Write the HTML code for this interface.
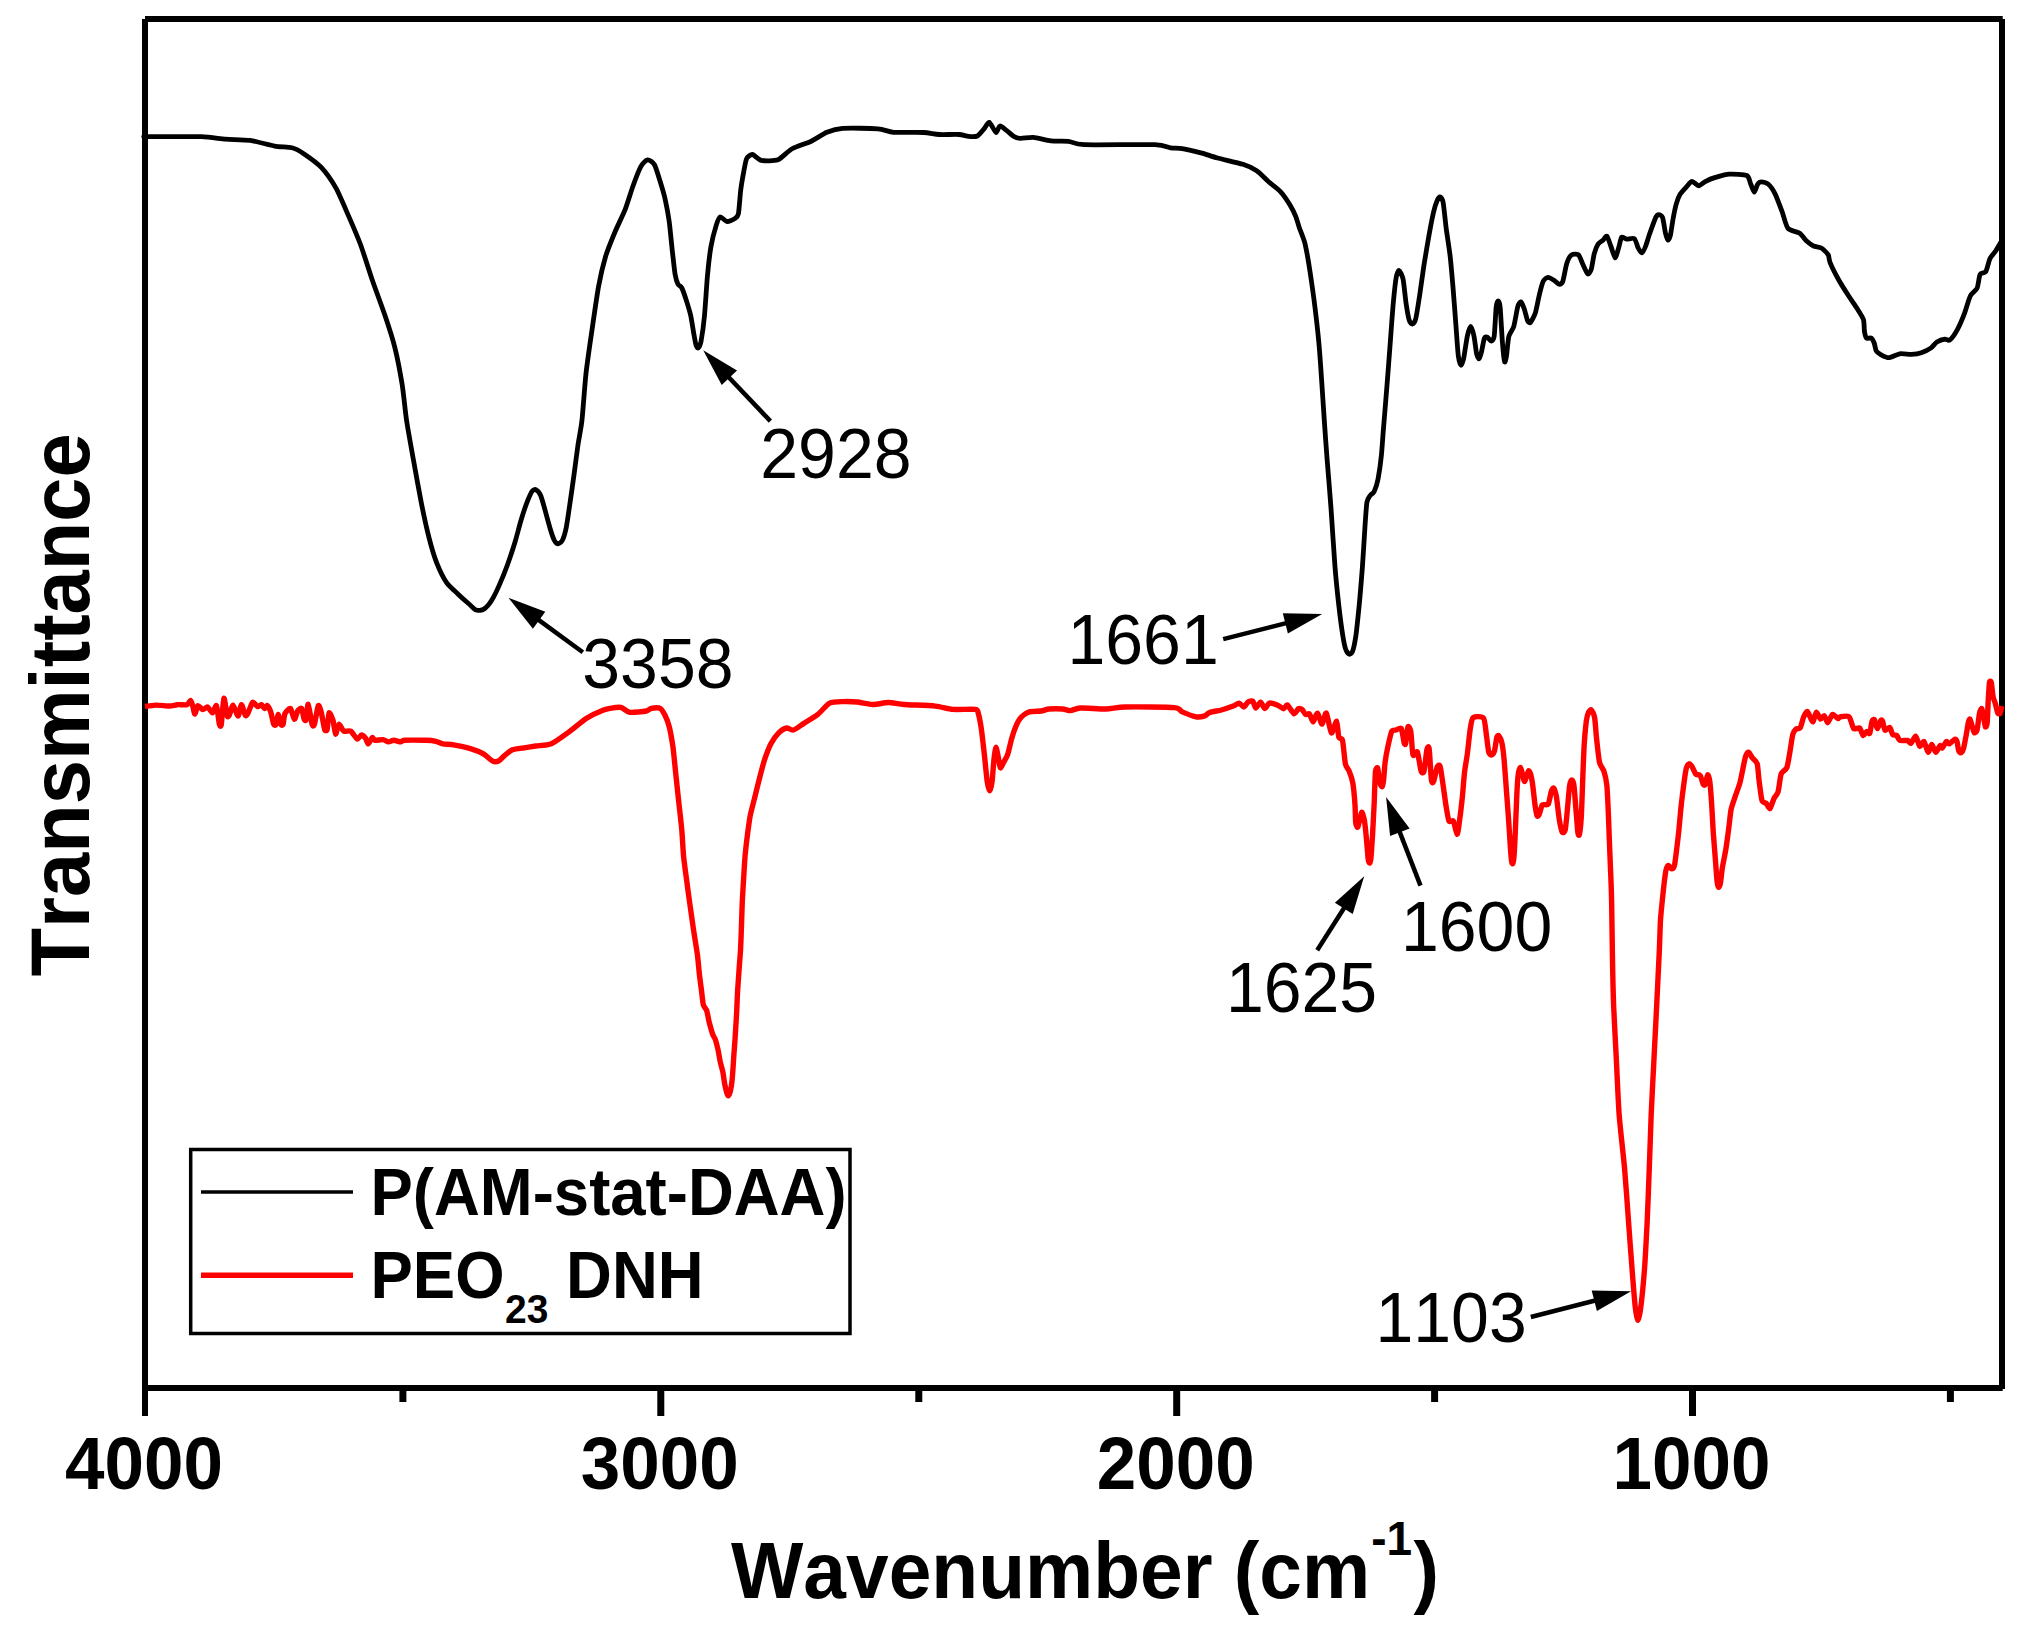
<!DOCTYPE html>
<html><head><meta charset="utf-8"><title>FTIR</title>
<style>
html,body{margin:0;padding:0;background:#fff}
svg{display:block}
text{font-family:"Liberation Sans",sans-serif;fill:#000;font-kerning:none;font-variant-ligatures:none}
.b{font-weight:bold}
</style></head><body>
<svg width="2041" height="1644" viewBox="0 0 2041 1644">
<rect width="2041" height="1644" fill="#fff"/>
<g stroke="#000" stroke-width="6" stroke-linecap="butt"><line x1="145" y1="19" x2="2002.7" y2="19"/><line x1="145" y1="1388" x2="2002.7" y2="1388"/><line x1="145" y1="19" x2="145" y2="1391"/><line x1="2002" y1="19" x2="2002" y2="1389"/></g>
<path d="M145.0 136.7 C145.3 136.7 140.7 136.7 147.3 136.7 C153.9 136.7 192.1 136.4 201.2 136.7 C210.3 137.0 220.0 138.8 225.7 139.2 C231.4 139.6 244.5 139.6 250.2 140.4 C255.9 141.2 269.8 145.2 274.7 146.1 C279.6 147.0 288.5 146.9 291.9 147.8 C295.3 148.7 300.7 151.6 304.1 153.9 C307.5 156.2 317.6 163.4 321.3 167.4 C325.0 171.4 332.9 182.6 336.0 188.2 C339.1 193.8 345.3 208.5 348.2 215.1 C351.1 221.7 357.6 236.8 360.5 244.5 C363.4 252.2 369.8 273.0 372.7 281.3 C375.6 289.6 382.4 307.9 385.0 315.6 C387.6 323.3 392.8 339.4 394.8 347.4 C396.8 355.4 400.7 375.7 402.1 384.2 C403.5 392.7 405.2 411.2 406.5 420.0 C407.8 428.8 411.6 449.6 413.3 459.2 C415.0 468.8 419.4 493.2 421.2 502.3 C423.0 511.4 427.2 530.5 429.0 537.6 C430.8 544.7 434.7 557.8 436.8 563.1 C438.9 568.4 444.1 579.0 446.6 582.7 C449.1 586.4 455.9 592.0 458.4 594.4 C460.9 596.8 466.1 601.4 468.2 603.2 C470.3 605.0 474.2 609.4 476.0 610.1 C477.8 610.8 482.1 610.2 483.9 609.1 C485.7 608.0 489.9 603.2 491.7 600.3 C493.5 597.4 497.7 588.7 499.5 584.6 C501.3 580.5 505.6 570.0 507.4 565.0 C509.2 560.0 513.6 546.8 515.2 541.5 C516.8 536.2 519.7 524.6 521.1 520.0 C522.5 515.4 525.7 505.6 527.0 502.3 C528.3 499.0 530.9 493.0 531.9 491.5 C532.9 490.0 534.8 489.1 535.8 489.6 C536.8 490.1 539.6 492.9 540.7 495.5 C541.8 498.1 544.5 508.1 545.6 512.1 C546.7 516.1 549.5 526.4 550.5 529.7 C551.5 533.0 553.5 538.8 554.4 540.5 C555.3 542.2 557.0 543.9 557.9 543.9 C558.8 543.9 561.3 542.4 562.3 540.5 C563.3 538.6 565.3 532.3 566.2 527.8 C567.1 523.3 569.2 508.5 570.1 502.3 C571.0 496.1 573.1 481.5 574.0 474.9 C574.9 468.3 577.0 451.9 577.9 445.5 C578.8 439.1 581.1 428.3 582.0 420.0 C582.9 411.7 584.8 384.7 585.9 374.4 C587.0 364.1 590.3 341.6 591.8 331.3 C593.3 321.0 597.0 294.9 598.6 286.2 C600.2 277.5 603.6 263.2 605.5 256.8 C607.4 250.4 613.0 236.8 615.3 231.3 C617.6 225.8 623.0 215.0 625.1 209.7 C627.2 204.4 631.1 191.2 632.9 186.2 C634.7 181.2 639.1 169.7 640.8 166.6 C642.5 163.5 646.0 160.0 647.6 159.8 C649.2 159.6 653.0 162.1 654.5 164.7 C656.0 167.3 659.1 178.2 660.4 182.3 C661.7 186.4 664.3 195.4 665.3 200.0 C666.3 204.6 668.4 215.8 669.2 221.5 C670.0 227.2 671.4 242.7 672.1 248.9 C672.8 255.1 674.4 270.3 675.1 274.4 C675.8 278.5 677.2 282.6 678.0 284.2 C678.8 285.8 680.9 286.0 681.9 288.1 C682.9 290.2 685.8 298.7 686.8 301.9 C687.8 305.1 689.9 311.9 690.7 315.6 C691.5 319.3 693.1 329.8 693.7 333.2 C694.3 336.6 695.5 343.3 696.0 345.0 C696.5 346.7 697.6 348.4 698.2 347.9 C698.8 347.4 700.4 344.9 701.1 341.1 C701.8 337.3 703.8 323.1 704.5 315.6 C705.2 308.1 706.7 284.4 707.4 276.4 C708.1 268.4 709.9 252.9 710.9 247.0 C711.9 241.1 715.1 228.9 716.2 225.4 C717.3 221.9 718.8 217.5 720.1 217.0 C721.4 216.5 725.3 221.3 727.0 221.5 C728.7 221.7 733.5 219.5 734.8 218.6 C736.1 217.7 737.7 217.0 738.4 213.7 C739.1 210.4 740.1 195.0 740.7 190.2 C741.3 185.4 742.9 176.2 743.6 172.5 C744.3 168.8 745.6 160.9 746.6 158.8 C747.6 156.7 750.8 154.3 752.5 154.5 C754.2 154.7 758.3 159.8 761.3 160.4 C764.3 161.0 774.4 161.1 777.9 159.8 C781.4 158.5 787.8 151.2 791.7 149.0 C795.6 146.8 807.2 143.1 811.3 141.2 C815.4 139.3 823.2 133.8 826.9 132.3 C830.6 130.8 836.6 128.8 842.6 128.4 C848.6 128.0 871.9 128.3 877.9 128.8 C883.9 129.3 888.3 131.9 893.6 132.3 C898.9 132.7 918.2 132.2 923.5 132.5 C928.8 132.8 935.1 134.3 939.2 134.5 C943.3 134.7 955.4 134.3 958.8 134.5 C962.2 134.7 966.4 136.2 968.6 136.4 C970.8 136.6 975.6 136.9 977.4 136.0 C979.2 135.1 982.9 130.2 984.3 128.6 C985.7 127.0 987.8 121.8 989.2 122.3 C990.6 122.8 994.8 132.1 996.0 132.5 C997.2 132.9 998.6 126.2 999.9 126.0 C1001.2 125.8 1005.2 129.4 1006.8 130.6 C1008.4 131.8 1012.1 135.5 1013.7 136.4 C1015.3 137.3 1018.2 138.3 1020.5 138.4 C1022.8 138.5 1029.8 137.1 1033.3 137.4 C1036.8 137.7 1046.8 140.4 1050.9 140.9 C1055.0 141.4 1064.6 140.9 1068.5 141.3 C1072.4 141.7 1074.1 144.3 1084.2 144.7 C1094.3 145.1 1144.7 144.3 1154.8 144.7 C1164.9 145.1 1167.3 147.3 1170.5 147.8 C1173.7 148.3 1178.5 148.0 1182.2 148.6 C1185.9 149.2 1197.7 152.0 1201.8 153.1 C1205.9 154.2 1212.7 156.7 1217.5 158.0 C1222.3 159.3 1238.4 162.8 1243.0 164.3 C1247.6 165.8 1253.7 168.7 1256.7 170.7 C1259.7 172.7 1265.7 179.1 1268.4 181.5 C1271.1 183.9 1277.7 188.6 1280.2 191.3 C1282.7 194.0 1288.2 202.0 1290.0 205.0 C1291.8 208.0 1294.8 214.1 1295.9 216.8 C1297.0 219.5 1298.3 224.8 1299.4 228.0 C1300.5 231.2 1303.9 239.0 1305.1 244.1 C1306.3 249.2 1308.9 264.2 1310.0 271.5 C1311.1 278.8 1313.9 298.6 1314.9 306.8 C1315.9 315.0 1318.0 333.4 1318.8 342.1 C1319.6 350.8 1321.1 372.2 1321.7 381.3 C1322.3 390.4 1323.7 411.4 1324.3 420.5 C1324.9 429.6 1326.3 449.0 1327.1 459.2 C1327.9 469.4 1330.1 495.6 1331.0 508.2 C1331.9 520.8 1334.1 555.6 1335.0 567.0 C1335.9 578.4 1338.0 598.2 1338.9 606.2 C1339.8 614.2 1342.0 630.6 1342.8 635.6 C1343.6 640.6 1344.9 647.1 1345.7 649.3 C1346.5 651.5 1348.5 654.0 1349.3 654.2 C1350.1 654.4 1351.8 653.5 1352.6 651.3 C1353.4 649.1 1355.1 640.9 1355.9 635.6 C1356.7 630.3 1358.3 614.2 1359.1 606.2 C1359.9 598.2 1361.7 576.1 1362.4 567.0 C1363.1 557.9 1364.4 535.3 1364.9 527.8 C1365.4 520.3 1366.3 506.1 1366.9 502.3 C1367.5 498.5 1369.3 496.8 1370.2 495.5 C1371.1 494.2 1373.3 493.4 1374.2 491.5 C1375.1 489.6 1377.3 483.0 1378.1 478.8 C1378.9 474.6 1380.8 461.2 1381.4 455.3 C1382.0 449.4 1382.8 436.5 1383.5 428.3 C1384.2 420.1 1386.2 395.3 1387.0 385.2 C1387.8 375.1 1389.6 351.7 1390.3 342.1 C1391.0 332.5 1392.6 310.4 1393.3 302.9 C1394.0 295.4 1395.5 281.2 1396.2 277.4 C1396.9 273.6 1398.3 270.3 1399.1 270.5 C1399.9 270.7 1402.3 275.5 1403.1 279.3 C1403.9 283.1 1405.3 298.1 1406.0 302.9 C1406.7 307.7 1408.5 318.0 1409.3 320.5 C1410.1 323.0 1411.7 324.2 1412.5 324.0 C1413.3 323.8 1415.0 321.9 1415.8 318.5 C1416.6 315.1 1418.8 300.9 1419.7 295.0 C1420.6 289.1 1422.6 274.2 1423.6 267.6 C1424.6 261.0 1427.4 244.6 1428.5 238.2 C1429.6 231.8 1432.4 217.2 1433.4 212.7 C1434.4 208.2 1436.6 201.8 1437.4 200.0 C1438.2 198.2 1439.6 196.7 1440.3 197.0 C1441.0 197.3 1442.5 199.2 1443.2 202.9 C1443.9 206.6 1445.4 222.2 1446.2 228.4 C1447.0 234.6 1449.3 248.9 1450.1 255.8 C1450.9 262.7 1452.3 279.0 1453.0 287.2 C1453.7 295.4 1455.4 318.4 1456.0 326.4 C1456.6 334.4 1457.7 351.3 1458.3 355.8 C1458.9 360.3 1460.3 365.0 1460.9 365.2 C1461.5 365.4 1463.1 361.1 1463.8 357.7 C1464.5 354.3 1466.5 339.9 1467.3 336.2 C1468.1 332.5 1469.9 326.4 1470.7 326.4 C1471.5 326.4 1473.3 333.0 1474.0 336.2 C1474.7 339.4 1476.0 351.2 1476.6 353.8 C1477.2 356.4 1478.5 358.9 1479.1 358.7 C1479.7 358.5 1480.9 354.3 1481.5 351.9 C1482.1 349.5 1483.7 339.8 1484.4 338.1 C1485.1 336.4 1486.5 336.8 1487.3 337.2 C1488.1 337.6 1490.5 341.2 1491.3 341.1 C1492.1 341.0 1493.6 340.2 1494.2 336.2 C1494.8 332.2 1495.7 310.9 1496.2 306.8 C1496.7 302.7 1497.6 300.9 1498.1 300.9 C1498.6 300.9 1499.6 302.0 1500.1 306.8 C1500.6 311.6 1501.9 335.7 1502.4 342.1 C1502.9 348.5 1504.1 360.1 1504.6 361.7 C1505.1 363.3 1506.0 358.8 1506.5 355.8 C1507.0 352.8 1508.0 339.6 1508.9 336.2 C1509.8 332.8 1512.8 329.8 1513.8 326.4 C1514.8 323.0 1516.9 309.7 1517.7 306.8 C1518.5 303.9 1520.2 301.7 1521.0 301.9 C1521.8 302.1 1523.4 306.5 1524.2 308.7 C1525.0 310.9 1526.8 318.9 1527.5 320.5 C1528.2 322.1 1529.6 323.4 1530.5 322.5 C1531.4 321.6 1534.4 315.9 1535.4 312.7 C1536.4 309.5 1538.4 298.7 1539.3 295.0 C1540.2 291.3 1542.2 283.4 1543.2 281.3 C1544.2 279.2 1546.8 277.5 1548.1 277.4 C1549.4 277.3 1552.7 279.5 1554.0 280.3 C1555.3 281.1 1557.9 284.1 1558.9 284.2 C1559.9 284.3 1561.9 283.7 1562.8 281.3 C1563.7 278.9 1565.7 266.8 1566.7 263.7 C1567.7 260.6 1570.2 255.9 1571.6 254.9 C1573.0 253.9 1577.1 253.7 1578.5 254.9 C1579.9 256.1 1582.3 263.4 1583.4 265.6 C1584.5 267.8 1586.8 273.4 1587.7 273.9 C1588.6 274.4 1590.4 271.8 1591.2 269.5 C1592.0 267.2 1593.4 256.9 1594.2 253.9 C1595.0 250.9 1597.1 245.7 1598.1 244.1 C1599.1 242.5 1602.0 241.1 1603.0 240.2 C1604.0 239.3 1606.0 235.5 1606.9 236.2 C1607.8 236.9 1609.8 243.5 1610.8 246.0 C1611.8 248.5 1614.2 257.6 1615.1 257.8 C1616.0 258.0 1617.8 250.4 1618.6 248.0 C1619.4 245.6 1620.7 238.2 1621.6 237.2 C1622.5 236.2 1625.0 239.0 1626.5 239.2 C1628.0 239.4 1632.9 237.6 1634.3 238.6 C1635.7 239.6 1637.3 246.3 1638.2 248.0 C1639.1 249.7 1640.9 253.1 1641.8 252.9 C1642.7 252.7 1644.8 248.3 1645.7 246.0 C1646.6 243.7 1648.6 236.6 1649.8 233.3 C1651.0 230.0 1654.7 219.8 1655.7 217.6 C1656.7 215.4 1657.8 214.6 1658.6 214.6 C1659.4 214.6 1661.8 215.4 1662.6 217.6 C1663.4 219.8 1664.9 230.7 1665.5 233.3 C1666.1 235.9 1667.4 239.9 1668.0 240.1 C1668.6 240.3 1669.8 237.8 1670.4 235.2 C1671.0 232.6 1672.6 221.3 1673.3 217.6 C1674.0 213.9 1675.5 206.6 1676.3 203.9 C1677.1 201.2 1678.9 196.2 1680.2 194.1 C1681.5 192.0 1685.7 187.7 1687.1 186.2 C1688.5 184.7 1690.6 181.3 1692.0 181.3 C1693.4 181.3 1697.2 185.8 1698.8 185.8 C1700.4 185.8 1703.8 182.3 1705.7 181.3 C1707.6 180.3 1712.8 178.2 1715.5 177.4 C1718.2 176.6 1725.5 174.3 1729.2 174.1 C1732.9 173.9 1744.3 174.3 1746.8 175.5 C1749.3 176.7 1749.9 182.4 1750.8 184.3 C1751.7 186.2 1753.5 192.1 1754.3 192.1 C1755.1 192.1 1756.8 185.5 1757.6 184.3 C1758.4 183.1 1760.2 181.9 1761.5 181.9 C1762.8 181.9 1766.8 182.9 1768.4 184.3 C1770.0 185.7 1773.6 190.9 1775.2 194.1 C1776.8 197.3 1780.6 207.7 1782.1 211.7 C1783.6 215.7 1785.9 225.9 1788.0 228.4 C1790.1 230.9 1797.5 231.8 1799.7 233.3 C1801.9 234.8 1805.0 239.6 1806.6 241.1 C1808.2 242.6 1811.8 245.2 1813.5 246.0 C1815.2 246.8 1819.6 247.0 1821.3 248.0 C1823.0 249.0 1827.2 253.1 1828.2 254.8 C1829.2 256.5 1828.9 259.7 1830.1 262.7 C1831.3 265.7 1836.7 276.4 1838.9 280.3 C1841.1 284.2 1846.6 292.8 1848.7 296.0 C1850.8 299.2 1854.9 305.0 1856.6 307.7 C1858.3 310.4 1862.5 316.7 1863.4 319.5 C1864.3 322.3 1864.1 329.1 1864.4 331.3 C1864.8 333.5 1865.6 337.3 1866.4 338.1 C1867.2 338.9 1870.4 337.5 1871.3 338.1 C1872.2 338.7 1873.6 341.5 1874.2 343.0 C1874.8 344.5 1875.4 349.5 1876.2 350.9 C1877.0 352.3 1879.6 354.0 1881.1 354.8 C1882.6 355.6 1886.7 357.8 1888.9 357.7 C1891.1 357.6 1897.1 354.2 1899.7 353.8 C1902.3 353.4 1909.0 354.5 1911.5 354.4 C1914.0 354.3 1919.0 353.6 1921.3 352.8 C1923.6 352.0 1929.3 349.2 1931.1 347.9 C1932.9 346.6 1935.3 343.0 1936.9 342.0 C1938.5 341.0 1943.3 339.3 1944.8 339.1 C1946.3 338.9 1948.2 341.2 1949.7 340.1 C1951.2 339.0 1955.8 332.4 1957.5 329.3 C1959.2 326.2 1962.9 317.5 1964.4 313.6 C1965.9 309.7 1968.8 299.0 1970.3 296.0 C1971.8 293.0 1976.0 290.6 1977.1 288.1 C1978.2 285.6 1979.1 276.3 1980.1 274.4 C1981.1 272.5 1984.8 273.3 1985.9 271.5 C1987.0 269.7 1988.8 261.1 1989.9 258.7 C1991.0 256.3 1994.4 252.8 1995.7 250.9 C1997.0 249.0 2000.4 243.0 2001.0 242.0" fill="none" stroke="#000" stroke-width="4.8" stroke-linejoin="round" stroke-linecap="butt"/>
<path d="M145.0 706.6 C146.2 706.4 152.9 705.2 155.7 705.1 C158.5 705.0 166.9 706.0 169.4 706.0 C171.9 706.0 175.1 704.9 177.2 704.7 C179.3 704.5 185.4 705.2 187.0 704.7 C188.6 704.2 189.9 700.2 190.6 700.4 C191.3 700.6 192.4 705.0 192.9 706.6 C193.4 708.2 194.3 714.2 194.9 714.1 C195.5 714.0 196.9 706.2 197.8 705.7 C198.7 705.2 201.6 709.4 202.7 709.6 C203.8 709.8 206.5 706.6 207.6 707.0 C208.7 707.4 211.5 713.1 212.5 712.9 C213.5 712.7 215.6 704.4 216.4 705.7 C217.2 707.0 218.8 722.1 219.4 724.3 C220.0 726.5 220.8 727.3 221.3 724.3 C221.8 721.3 223.2 699.4 223.9 698.4 C224.6 697.4 226.6 713.5 227.2 715.5 C227.8 717.5 228.5 716.7 229.2 715.5 C229.9 714.3 232.1 705.0 233.1 705.1 C234.1 705.2 237.0 716.0 238.0 716.0 C239.0 716.0 240.6 704.8 241.5 704.7 C242.4 704.6 244.6 714.6 245.4 715.5 C246.2 716.4 247.3 714.0 248.2 712.5 C249.1 711.0 251.6 703.0 252.7 702.3 C253.8 701.6 256.6 706.3 257.6 706.6 C258.6 706.9 260.7 704.5 261.5 704.7 C262.3 704.9 263.8 708.5 264.5 708.6 C265.2 708.7 266.7 705.2 267.4 705.7 C268.1 706.2 270.2 710.3 270.9 712.5 C271.6 714.7 273.1 722.9 273.7 724.3 C274.3 725.7 275.7 725.4 276.2 724.3 C276.7 723.2 277.7 714.5 278.2 714.5 C278.7 714.5 280.1 723.2 280.7 724.3 C281.3 725.4 282.6 725.6 283.1 724.3 C283.6 723.0 284.1 715.3 285.0 713.5 C285.9 711.7 289.4 707.9 290.5 708.6 C291.6 709.3 293.5 719.2 294.4 719.4 C295.3 719.6 296.9 711.9 297.8 710.6 C298.7 709.3 301.0 707.6 301.7 708.6 C302.4 709.6 303.7 718.1 304.2 719.4 C304.7 720.7 305.7 721.2 306.2 719.4 C306.7 717.6 307.5 703.7 308.2 704.3 C308.9 704.9 311.4 722.0 312.1 724.3 C312.8 726.6 313.7 726.5 314.4 724.3 C315.1 722.1 317.5 707.1 318.3 705.7 C319.1 704.3 320.6 709.8 321.3 712.5 C322.0 715.2 323.9 727.3 324.6 729.2 C325.3 731.1 326.7 731.1 327.2 729.2 C327.7 727.3 328.4 713.9 329.1 712.9 C329.8 711.9 332.2 717.9 333.0 720.4 C333.8 722.9 334.9 733.6 335.6 734.1 C336.3 734.6 337.9 724.6 338.9 724.3 C339.9 723.9 342.4 730.3 343.8 731.1 C345.2 731.9 349.1 730.2 350.7 731.1 C352.3 732.0 355.9 738.5 357.2 739.0 C358.5 739.5 360.5 735.1 361.5 735.0 C362.5 734.9 364.6 737.0 365.4 738.0 C366.2 739.0 367.5 743.9 368.3 743.9 C369.1 743.9 371.4 738.0 372.2 737.6 C373.0 737.2 373.9 740.1 375.2 740.3 C376.5 740.5 381.4 739.4 383.0 739.6 C384.6 739.8 387.2 741.8 388.5 741.9 C389.8 742.0 392.4 740.3 393.8 740.3 C395.2 740.3 399.4 741.9 400.7 741.9 C402.0 741.9 401.6 740.5 404.6 740.3 C407.6 740.1 422.4 740.2 426.1 740.3 C429.8 740.4 434.0 740.9 435.9 741.3 C437.8 741.7 440.7 743.5 442.8 743.9 C444.9 744.3 450.3 744.3 453.6 744.9 C456.9 745.5 467.8 747.8 471.2 748.8 C474.6 749.8 480.5 752.3 483.0 753.7 C485.5 755.1 491.0 760.2 492.8 761.1 C494.6 762.0 497.2 761.7 498.6 761.1 C500.0 760.5 502.9 756.9 504.5 755.6 C506.1 754.3 510.1 750.7 512.4 749.8 C514.7 748.9 521.4 748.2 524.1 747.8 C526.8 747.4 532.5 746.5 535.7 746.0 C538.9 745.5 547.5 745.3 551.4 743.7 C555.3 742.1 564.9 734.9 569.0 731.9 C573.1 728.9 582.7 720.7 586.6 718.2 C590.5 715.7 599.5 711.5 602.3 710.4 C605.1 709.3 608.0 708.8 610.2 708.4 C612.4 708.0 618.6 706.9 620.9 707.4 C623.2 707.9 626.7 711.9 629.7 712.3 C632.7 712.7 643.9 711.5 646.4 711.0 C648.9 710.5 649.7 708.7 651.3 708.4 C652.9 708.1 658.5 707.6 660.1 708.4 C661.7 709.2 663.9 713.1 665.0 715.3 C666.1 717.5 668.4 723.3 669.3 727.0 C670.2 730.7 672.1 741.1 672.9 746.6 C673.7 752.1 675.1 767.7 675.8 774.1 C676.5 780.5 678.0 795.1 678.7 801.5 C679.4 807.9 681.1 822.5 681.7 828.9 C682.3 835.3 683.0 850.4 683.6 856.4 C684.2 862.4 685.9 874.6 686.6 879.9 C687.3 885.2 688.7 895.8 689.5 901.5 C690.3 907.2 692.5 922.7 693.4 928.9 C694.3 935.1 696.7 949.4 697.4 954.7 C698.1 960.0 698.9 970.3 699.4 974.3 C699.9 978.3 700.8 985.5 701.3 989.0 C701.8 992.5 702.7 1002.2 703.3 1004.7 C703.9 1007.2 706.0 1008.5 706.7 1010.6 C707.4 1012.7 708.5 1019.6 709.2 1022.3 C709.9 1025.0 711.9 1032.0 712.6 1034.1 C713.3 1036.2 714.9 1038.2 715.5 1040.0 C716.1 1041.8 717.4 1047.1 718.0 1049.7 C718.6 1052.3 719.8 1059.9 720.4 1062.5 C721.0 1065.1 722.4 1069.7 722.9 1072.3 C723.4 1074.9 724.4 1082.6 724.9 1085.0 C725.4 1087.4 726.4 1091.6 726.8 1092.9 C727.2 1094.2 727.9 1095.9 728.3 1095.8 C728.7 1095.7 729.7 1093.8 730.2 1091.9 C730.7 1090.0 731.8 1083.1 732.2 1079.1 C732.6 1075.1 733.4 1062.4 733.7 1057.6 C734.0 1052.8 734.8 1043.1 735.1 1038.0 C735.4 1032.9 736.3 1019.0 736.6 1013.5 C736.9 1008.0 737.3 996.1 737.6 991.0 C737.9 985.9 738.8 974.1 739.1 969.4 C739.4 964.7 740.2 955.7 740.5 950.5 C740.8 945.3 741.3 931.0 741.5 925.0 C741.7 919.0 742.1 905.2 742.4 899.5 C742.7 893.8 743.4 881.5 743.8 876.0 C744.1 870.5 744.9 857.5 745.4 852.5 C745.9 847.5 747.1 837.3 747.7 832.9 C748.3 828.5 749.4 819.6 750.3 815.2 C751.2 810.8 754.1 800.2 755.2 795.6 C756.3 791.0 759.0 780.3 760.1 776.0 C761.2 771.7 763.7 762.2 765.0 758.4 C766.3 754.6 769.3 746.7 770.9 743.7 C772.5 740.7 776.9 734.7 778.7 732.9 C780.5 731.1 784.8 728.3 786.5 728.0 C788.2 727.7 791.3 730.6 793.4 730.0 C795.5 729.4 801.3 724.9 804.2 723.1 C807.1 721.3 814.9 716.6 817.9 714.3 C820.9 712.0 826.7 704.6 829.7 703.1 C832.7 701.6 840.2 701.7 843.4 701.6 C846.6 701.5 853.7 701.7 857.1 702.0 C860.5 702.3 869.1 704.4 872.8 704.5 C876.5 704.6 884.7 702.5 888.4 702.5 C892.1 702.5 898.6 704.1 904.1 704.5 C909.6 704.9 929.6 705.5 935.3 706.1 C941.0 706.7 948.2 709.0 952.9 709.4 C957.6 709.8 972.5 708.9 975.5 709.4 C978.5 709.9 977.7 711.7 978.4 713.9 C979.1 716.1 980.6 723.9 981.3 728.6 C982.0 733.3 983.6 747.9 984.3 754.1 C985.0 760.3 986.6 777.2 987.2 781.5 C987.8 785.8 989.2 790.9 989.8 790.9 C990.4 790.9 991.6 785.3 992.1 781.5 C992.6 777.7 993.6 762.0 994.1 758.0 C994.6 754.0 995.5 747.2 996.0 747.2 C996.5 747.2 997.9 755.6 998.4 758.0 C998.9 760.4 999.7 767.3 1000.3 767.8 C1000.9 768.3 1003.0 763.5 1003.9 761.9 C1004.8 760.3 1006.9 756.8 1007.8 754.1 C1008.7 751.4 1010.7 741.8 1011.7 738.4 C1012.7 735.0 1015.5 727.2 1016.6 724.7 C1017.7 722.2 1020.0 718.3 1021.5 716.8 C1023.0 715.3 1027.0 712.6 1029.3 711.9 C1031.6 711.2 1038.8 711.3 1041.1 711.0 C1043.4 710.7 1046.4 709.2 1048.9 709.0 C1051.4 708.8 1060.2 708.8 1062.7 709.0 C1065.2 709.2 1068.4 710.7 1070.5 710.6 C1072.6 710.5 1076.2 708.2 1080.3 708.0 C1084.4 707.8 1100.5 709.1 1105.8 709.0 C1111.1 708.9 1117.4 707.2 1125.4 707.0 C1133.4 706.8 1167.8 707.0 1174.4 707.6 C1181.0 708.2 1179.7 710.8 1182.2 711.9 C1184.7 713.0 1193.3 716.3 1195.9 716.8 C1198.5 717.3 1203.2 716.4 1204.8 715.9 C1206.4 715.4 1207.7 713.2 1209.6 712.5 C1211.5 711.8 1218.6 710.7 1221.4 710.0 C1224.2 709.3 1231.1 706.9 1233.2 706.1 C1235.3 705.3 1237.8 703.0 1239.0 703.1 C1240.2 703.2 1242.9 707.1 1243.9 707.0 C1244.9 706.9 1246.9 702.8 1247.9 702.1 C1248.9 701.4 1251.9 700.5 1252.8 701.2 C1253.7 701.9 1254.8 707.9 1255.7 708.0 C1256.6 708.1 1259.5 702.0 1260.6 702.1 C1261.7 702.2 1263.9 708.5 1264.9 708.6 C1265.9 708.7 1267.8 703.5 1269.4 703.1 C1271.0 702.7 1276.5 704.8 1278.2 705.5 C1279.9 706.2 1282.6 708.8 1283.7 708.7 C1284.8 708.6 1286.1 704.4 1287.3 705.0 C1288.5 705.6 1292.7 713.4 1294.0 713.8 C1295.3 714.2 1297.5 709.2 1298.4 708.7 C1299.3 708.2 1301.1 708.7 1302.0 709.4 C1302.9 710.1 1304.8 714.0 1305.7 714.5 C1306.6 715.0 1308.5 712.9 1309.4 713.8 C1310.3 714.7 1312.2 722.0 1313.1 721.9 C1314.0 721.8 1316.5 712.8 1317.5 713.1 C1318.5 713.4 1320.9 724.1 1321.9 724.1 C1322.9 724.1 1325.2 712.1 1326.3 713.1 C1327.4 714.1 1330.2 732.0 1331.4 732.9 C1332.6 733.8 1335.7 720.7 1336.6 721.2 C1337.5 721.7 1338.1 735.1 1338.8 737.3 C1339.5 739.5 1341.7 737.2 1342.5 740.3 C1343.3 743.4 1344.6 760.2 1345.4 763.8 C1346.2 767.4 1348.2 768.9 1349.1 771.1 C1350.0 773.3 1352.1 779.0 1352.8 782.9 C1353.5 786.8 1354.7 800.3 1355.0 804.9 C1355.3 809.5 1355.4 820.0 1355.7 822.6 C1356.0 825.2 1357.2 828.2 1357.9 827.0 C1358.6 825.8 1360.8 813.0 1361.6 812.3 C1362.4 811.6 1363.9 817.7 1364.5 821.1 C1365.1 824.5 1366.3 837.2 1366.7 841.7 C1367.1 846.2 1367.9 856.8 1368.2 859.3 C1368.5 861.8 1369.4 863.3 1369.7 863.0 C1370.0 862.7 1370.8 859.7 1371.1 856.4 C1371.4 853.1 1372.2 840.3 1372.6 834.3 C1372.9 828.3 1373.8 810.6 1374.1 804.9 C1374.4 799.2 1374.6 789.7 1374.8 785.8 C1375.0 781.9 1375.2 773.2 1375.5 771.1 C1375.8 769.0 1377.2 766.8 1377.7 768.2 C1378.2 769.6 1379.4 780.8 1379.9 782.9 C1380.4 785.0 1381.8 786.9 1382.2 786.6 C1382.6 786.3 1383.3 782.8 1383.6 780.0 C1383.9 777.2 1384.6 766.3 1385.1 762.3 C1385.6 758.3 1387.2 749.7 1388.0 746.1 C1388.8 742.5 1390.8 733.3 1391.7 731.4 C1392.6 729.5 1395.0 730.3 1396.1 730.0 C1397.2 729.7 1400.4 727.0 1401.3 728.5 C1402.2 730.0 1403.7 741.5 1404.2 743.2 C1404.7 744.9 1405.3 745.1 1405.7 743.2 C1406.1 741.3 1407.3 728.4 1407.9 727.0 C1408.5 725.6 1410.2 728.1 1410.8 731.4 C1411.4 734.7 1412.2 752.6 1413.0 755.0 C1413.8 757.4 1416.5 750.1 1417.4 752.0 C1418.3 753.9 1420.3 768.9 1421.1 771.1 C1421.9 773.3 1423.3 773.7 1424.0 771.1 C1424.7 768.5 1426.4 751.7 1427.0 749.1 C1427.6 746.5 1428.7 745.5 1429.2 749.1 C1429.7 752.7 1430.9 776.2 1431.4 780.0 C1431.9 783.8 1432.9 783.0 1433.6 781.4 C1434.3 779.8 1436.5 768.4 1437.3 766.7 C1438.1 765.0 1439.5 764.5 1440.2 766.7 C1440.9 768.9 1442.5 781.2 1443.2 785.8 C1443.9 790.4 1445.4 802.3 1446.1 806.4 C1446.8 810.5 1448.1 819.4 1449.0 821.1 C1449.9 822.8 1452.5 819.6 1453.4 821.1 C1454.3 822.6 1456.4 834.1 1457.1 834.3 C1457.8 834.5 1458.7 826.9 1459.3 822.6 C1459.9 818.3 1461.7 803.4 1462.3 797.6 C1462.9 791.8 1463.9 777.7 1464.5 772.6 C1465.1 767.5 1466.7 758.6 1467.4 753.5 C1468.1 748.4 1469.6 732.7 1470.3 728.5 C1471.0 724.3 1471.7 718.7 1473.3 717.5 C1474.9 716.3 1482.1 716.1 1483.6 718.2 C1485.1 720.3 1485.9 732.0 1486.5 735.9 C1487.1 739.8 1488.1 749.8 1488.7 752.0 C1489.3 754.2 1491.0 755.2 1491.7 755.0 C1492.4 754.8 1494.0 752.7 1494.6 750.6 C1495.2 748.5 1496.3 739.0 1496.8 737.3 C1497.3 735.6 1498.4 735.2 1499.0 735.9 C1499.6 736.6 1501.4 740.3 1502.0 743.2 C1502.6 746.1 1503.7 755.3 1504.2 760.8 C1504.7 766.3 1505.9 783.3 1506.4 790.2 C1506.9 797.1 1508.2 813.6 1508.6 819.6 C1509.0 825.6 1509.7 836.9 1510.0 841.7 C1510.3 846.5 1511.2 858.2 1511.5 860.8 C1511.8 863.4 1512.4 864.2 1512.7 863.7 C1513.0 863.2 1513.7 859.8 1514.0 856.4 C1514.3 853.0 1514.9 841.2 1515.2 834.3 C1515.5 827.4 1516.4 804.5 1516.7 797.6 C1517.0 790.7 1517.7 779.0 1518.1 775.5 C1518.5 772.0 1519.8 767.7 1520.3 767.5 C1520.8 767.3 1522.0 772.5 1522.5 774.1 C1523.0 775.7 1524.0 781.8 1524.7 781.4 C1525.4 781.0 1527.7 772.0 1528.4 771.1 C1529.1 770.2 1530.1 772.4 1530.6 774.1 C1531.1 775.8 1532.3 782.2 1532.8 785.8 C1533.3 789.4 1534.5 801.4 1535.0 804.9 C1535.5 808.4 1536.7 815.0 1537.2 816.0 C1537.7 817.0 1538.8 815.1 1539.4 813.8 C1540.0 812.5 1541.4 806.0 1542.4 804.9 C1543.4 803.8 1547.2 805.7 1548.2 804.2 C1549.2 802.7 1550.6 793.6 1551.2 791.7 C1551.8 789.8 1553.1 787.5 1553.7 788.0 C1554.3 788.5 1555.6 792.4 1556.3 796.1 C1557.0 799.8 1558.6 815.4 1559.3 819.6 C1560.0 823.8 1561.5 830.9 1562.2 832.1 C1562.9 833.3 1564.6 832.5 1565.2 829.9 C1565.8 827.3 1566.9 814.5 1567.4 809.4 C1567.9 804.3 1569.1 789.2 1569.6 785.8 C1570.1 782.4 1571.3 780.0 1571.8 780.0 C1572.3 780.0 1573.5 782.0 1574.0 785.8 C1574.5 789.6 1575.7 806.8 1576.2 812.3 C1576.7 817.8 1577.5 830.3 1577.9 832.9 C1578.3 835.5 1579.0 836.0 1579.4 834.3 C1579.8 832.6 1580.8 824.2 1581.2 818.2 C1581.6 812.2 1582.3 791.3 1582.6 782.9 C1582.9 774.5 1583.7 753.3 1584.1 746.1 C1584.5 738.9 1585.8 725.1 1586.3 721.2 C1586.8 717.3 1587.9 713.6 1588.5 712.3 C1589.1 711.0 1590.7 709.4 1591.4 710.1 C1592.1 710.8 1594.1 714.9 1594.7 718.2 C1595.3 721.5 1596.0 733.7 1596.6 738.8 C1597.2 743.9 1598.6 758.5 1599.5 762.3 C1600.4 766.1 1603.0 768.4 1603.9 771.1 C1604.8 773.8 1606.4 781.0 1606.9 785.8 C1607.4 790.6 1608.0 805.8 1608.3 812.3 C1608.6 818.8 1609.1 834.8 1609.4 841.7 C1609.7 848.6 1610.3 864.2 1610.6 871.1 C1610.9 878.0 1611.4 890.9 1611.6 900.5 C1611.8 910.1 1612.2 941.1 1612.4 953.5 C1612.6 965.9 1613.2 994.6 1613.7 1007.1 C1614.2 1019.6 1615.8 1048.1 1616.4 1060.6 C1617.0 1073.1 1618.2 1101.6 1619.1 1114.1 C1620.0 1126.6 1623.4 1155.1 1624.5 1167.6 C1625.6 1180.1 1627.6 1208.7 1628.5 1221.2 C1629.4 1233.7 1631.7 1264.7 1632.5 1274.7 C1633.3 1284.7 1634.6 1301.5 1635.2 1306.8 C1635.8 1312.1 1637.0 1319.9 1637.6 1320.2 C1638.2 1320.5 1639.7 1315.4 1640.5 1309.5 C1641.3 1303.6 1643.7 1279.6 1644.5 1269.3 C1645.3 1259.0 1646.6 1233.1 1647.2 1221.2 C1647.8 1209.3 1648.8 1180.1 1649.3 1167.6 C1649.8 1155.1 1650.7 1126.6 1651.2 1114.1 C1651.7 1101.6 1653.3 1073.1 1653.9 1060.6 C1654.5 1048.1 1656.0 1019.6 1656.6 1007.1 C1657.2 994.6 1658.7 963.7 1659.2 953.5 C1659.7 943.3 1660.1 926.2 1660.5 920.0 C1660.9 913.8 1661.9 904.8 1662.3 900.5 C1662.7 896.2 1663.8 886.4 1664.2 882.8 C1664.6 879.2 1665.6 871.6 1666.1 869.6 C1666.6 867.6 1668.0 865.6 1668.6 865.5 C1669.2 865.4 1670.9 868.9 1671.6 868.9 C1672.3 868.9 1673.9 867.5 1674.5 865.2 C1675.1 862.9 1676.2 853.1 1676.7 849.0 C1677.2 844.9 1678.4 834.9 1678.9 829.9 C1679.4 824.9 1680.5 811.9 1681.1 806.4 C1681.7 800.9 1683.4 787.4 1684.0 782.9 C1684.6 778.4 1685.7 770.4 1686.3 768.2 C1686.9 766.0 1688.5 764.0 1689.2 763.8 C1689.9 763.6 1691.3 765.5 1692.1 766.7 C1692.9 767.9 1694.9 773.1 1695.8 774.1 C1696.7 775.1 1699.3 774.3 1700.2 775.5 C1701.1 776.7 1702.6 783.4 1703.2 784.4 C1703.8 785.4 1704.9 785.5 1705.4 784.4 C1705.9 783.3 1707.1 775.1 1707.6 774.8 C1708.1 774.4 1709.3 777.9 1709.8 781.4 C1710.3 784.9 1711.3 798.7 1711.7 804.9 C1712.1 811.1 1712.9 827.4 1713.4 834.3 C1713.9 841.2 1715.3 858.2 1715.7 863.7 C1716.1 869.2 1716.8 878.6 1717.1 881.4 C1717.4 884.2 1718.2 887.1 1718.6 887.3 C1719.0 887.5 1720.1 885.0 1720.5 882.8 C1720.9 880.6 1721.7 872.0 1722.3 868.1 C1722.9 864.2 1725.1 853.8 1725.9 849.0 C1726.7 844.2 1728.3 831.6 1728.9 827.0 C1729.5 822.4 1730.4 812.8 1731.1 809.4 C1731.8 806.0 1733.8 800.7 1734.8 797.6 C1735.8 794.5 1738.9 786.7 1739.9 782.9 C1740.9 779.1 1742.9 768.5 1743.6 765.3 C1744.3 762.1 1745.2 757.2 1745.8 755.7 C1746.4 754.2 1747.9 752.0 1748.7 752.3 C1749.5 752.6 1751.4 756.6 1752.4 757.9 C1753.4 759.2 1756.4 761.2 1757.2 763.8 C1758.0 766.4 1758.4 775.7 1759.0 780.0 C1759.6 784.3 1761.1 797.8 1762.0 800.5 C1762.9 803.2 1765.5 802.6 1766.4 803.5 C1767.3 804.4 1769.1 809.1 1770.0 808.6 C1770.9 808.1 1772.8 801.1 1773.7 799.1 C1774.6 797.1 1777.2 794.6 1778.1 791.7 C1779.0 788.8 1780.1 776.9 1781.1 774.1 C1782.1 771.3 1785.9 770.1 1786.9 767.5 C1787.9 764.9 1789.2 755.9 1789.9 752.0 C1790.6 748.1 1792.1 737.1 1792.8 734.4 C1793.5 731.7 1794.9 730.0 1795.8 729.2 C1796.7 728.4 1799.3 729.3 1800.2 727.8 C1801.1 726.3 1802.9 718.6 1803.8 716.7 C1804.7 714.8 1806.5 711.0 1807.5 711.6 C1808.5 712.2 1811.7 721.8 1812.7 721.9 C1813.7 722.0 1815.4 712.6 1816.3 712.3 C1817.2 712.0 1819.5 718.6 1820.4 719.0 C1821.3 719.4 1823.3 715.2 1824.2 715.6 C1825.1 716.0 1826.7 722.8 1827.7 722.7 C1828.7 722.6 1831.3 714.9 1832.5 714.4 C1833.7 713.9 1836.9 718.2 1837.8 718.5 C1838.7 718.8 1838.8 717.0 1840.1 716.8 C1841.4 716.6 1847.4 715.4 1849.0 716.8 C1850.6 718.2 1852.5 727.3 1853.7 728.6 C1854.9 729.9 1858.5 727.2 1859.6 728.0 C1860.7 728.8 1862.4 735.2 1863.2 735.6 C1864.0 736.0 1865.9 731.8 1866.7 731.5 C1867.5 731.2 1869.1 734.5 1869.7 733.3 C1870.3 732.1 1871.5 723.1 1872.0 721.5 C1872.5 719.9 1873.8 718.9 1874.4 719.7 C1875.0 720.5 1876.5 728.5 1877.3 728.6 C1878.1 728.7 1880.3 721.1 1880.9 720.3 C1881.5 719.5 1882.2 720.3 1882.7 721.5 C1883.2 722.7 1884.2 729.6 1885.0 730.3 C1885.8 731.0 1888.8 726.9 1889.7 727.4 C1890.6 727.9 1891.9 733.5 1892.7 734.5 C1893.5 735.5 1896.0 734.9 1896.8 735.6 C1897.6 736.3 1898.6 739.8 1899.8 740.4 C1901.0 741.0 1906.2 740.1 1907.5 740.4 C1908.8 740.7 1910.0 743.8 1911.0 743.3 C1912.0 742.8 1914.7 735.9 1915.7 736.2 C1916.7 736.6 1918.8 745.7 1919.8 746.3 C1920.8 746.9 1923.0 740.8 1924.0 741.5 C1925.0 742.2 1927.2 751.9 1928.1 752.2 C1929.0 752.6 1930.8 744.5 1931.7 744.5 C1932.6 744.5 1934.8 752.1 1935.8 752.2 C1936.8 752.3 1939.1 746.2 1939.9 745.7 C1940.7 745.2 1941.5 748.5 1942.3 748.0 C1943.1 747.5 1945.6 742.0 1946.4 741.5 C1947.2 741.0 1948.4 744.2 1949.4 743.9 C1950.4 743.6 1953.8 739.5 1954.7 739.2 C1955.6 738.9 1956.5 740.1 1957.0 741.5 C1957.5 742.9 1958.3 749.7 1958.8 751.0 C1959.3 752.3 1960.7 753.1 1961.2 752.8 C1961.7 752.5 1963.0 750.5 1963.5 748.6 C1964.0 746.7 1965.3 739.8 1965.9 736.8 C1966.5 733.8 1967.8 724.8 1968.3 722.7 C1968.8 720.6 1969.6 718.8 1970.0 719.1 C1970.4 719.4 1971.3 723.4 1971.8 725.0 C1972.3 726.6 1973.6 732.2 1974.2 732.7 C1974.8 733.2 1976.5 732.0 1977.1 729.7 C1977.7 727.4 1979.0 715.7 1979.5 713.2 C1980.0 710.7 1981.3 708.1 1981.8 708.5 C1982.3 708.9 1983.2 714.7 1983.6 716.8 C1984.0 718.9 1985.0 726.1 1985.4 726.8 C1985.8 727.5 1986.9 725.9 1987.2 722.7 C1987.5 719.5 1988.0 703.7 1988.3 699.0 C1988.6 694.3 1989.2 684.4 1989.5 682.5 C1989.8 680.6 1990.9 680.8 1991.3 682.5 C1991.7 684.2 1992.6 694.2 1993.1 696.7 C1993.6 699.2 1994.9 701.9 1995.4 703.8 C1995.9 705.7 1997.3 712.1 1997.8 713.2 C1998.3 714.3 1999.6 714.0 2000.1 713.2 C2000.6 712.4 2001.7 706.9 2001.9 706.1" fill="none" stroke="#f00" stroke-width="5.4" stroke-linejoin="round" stroke-linecap="butt"/>
<line x1="145.0" y1="1388" x2="145.0" y2="1416" stroke="#000" stroke-width="6"/><line x1="660.8" y1="1388" x2="660.8" y2="1416" stroke="#000" stroke-width="7"/><line x1="1176.7" y1="1388" x2="1176.7" y2="1416" stroke="#000" stroke-width="7"/><line x1="1692.5" y1="1388" x2="1692.5" y2="1416" stroke="#000" stroke-width="7"/><line x1="402.9" y1="1388" x2="402.9" y2="1402" stroke="#000" stroke-width="7"/><line x1="918.8" y1="1388" x2="918.8" y2="1402" stroke="#000" stroke-width="7"/><line x1="1434.6" y1="1388" x2="1434.6" y2="1402" stroke="#000" stroke-width="7"/><line x1="1950.4" y1="1388" x2="1950.4" y2="1402" stroke="#000" stroke-width="7"/>
<text transform="translate(144.0,1489.0) scale(1,1.041)" class="b" text-anchor="middle" font-size="71">4000</text>
<text transform="translate(659.8,1489.0) scale(1,1.041)" class="b" text-anchor="middle" font-size="71">3000</text>
<text transform="translate(1175.7,1489.0) scale(1,1.041)" class="b" text-anchor="middle" font-size="71">2000</text>
<text transform="translate(1691.5,1489.0) scale(1,1.041)" class="b" text-anchor="middle" font-size="71">1000</text>

<line x1="582.8" y1="652.2" x2="535.8" y2="617.9" stroke="#000" stroke-width="4.5"/><polygon points="508.4,597.8 545.3,611.8 532.9,628.7" fill="#000"/><line x1="770.4" y1="421.1" x2="726.6" y2="375.0" stroke="#000" stroke-width="4.5"/><polygon points="703.2,350.3 737.0,370.6 721.7,385.1" fill="#000"/><line x1="1223.2" y1="639.1" x2="1289.2" y2="622.4" stroke="#000" stroke-width="4.5"/><polygon points="1322.2,614.0 1287.9,633.5 1282.8,613.2" fill="#000"/><line x1="1317.2" y1="950.2" x2="1346.0" y2="905.0" stroke="#000" stroke-width="4.5"/><polygon points="1364.2,876.3 1352.7,914.0 1334.9,902.7" fill="#000"/><line x1="1420.5" y1="885.6" x2="1398.4" y2="828.6" stroke="#000" stroke-width="4.5"/><polygon points="1386.1,796.9 1409.6,828.5 1390.1,836.1" fill="#000"/><line x1="1530.8" y1="1317.0" x2="1598.2" y2="1299.7" stroke="#000" stroke-width="4.5"/><polygon points="1631.1,1291.3 1596.9,1310.9 1591.7,1290.6" fill="#000"/>
<text transform="translate(582.3,687.5) scale(1,1.03)" font-size="68">3358</text>
<text transform="translate(760.3,477.7) scale(1,1.03)" font-size="68">2928</text>
<text transform="translate(1067.5,664.0) scale(1,1.03)" font-size="68">1661</text>
<text transform="translate(1225.9,1011.9) scale(1,1.03)" font-size="68">1625</text>
<text transform="translate(1401.0,951.1) scale(1,1.03)" font-size="68">1600</text>
<text transform="translate(1375.5,1341.9) scale(1,1.03)" font-size="68">1103</text>

<rect x="190.7" y="1149.5" width="659.3" height="184" fill="#fff" stroke="#000" stroke-width="3.5"/>
<line x1="201" y1="1192" x2="353" y2="1192" stroke="#000" stroke-width="3.5"/>
<line x1="201" y1="1275.3" x2="353" y2="1275.3" stroke="#f00" stroke-width="5.5"/>
<text transform="translate(370.5,1214.5) scale(1,1.041)" class="b" font-size="63.5">P(AM-stat-DAA)</text>
<text transform="translate(370.5,1297.7) scale(1,1.041)" class="b" font-size="63.5">PEO<tspan font-size="39" dx="0.5" dy="24.5">23</tspan><tspan dx="0" dy="-24.5"> DNH</tspan></text>

<text transform="translate(89.0,976.5) rotate(-90) scale(1,1.041)" class="b" font-size="79.5">Transmittance</text>
<text transform="translate(731.0,1597.5) scale(1,1.041)" class="b" font-size="76.7">Wavenumber (cm<tspan font-size="46" dx="1" dy="-41">-1</tspan><tspan dx="1.5" dy="41">)</tspan></text>

</svg>
</body></html>
